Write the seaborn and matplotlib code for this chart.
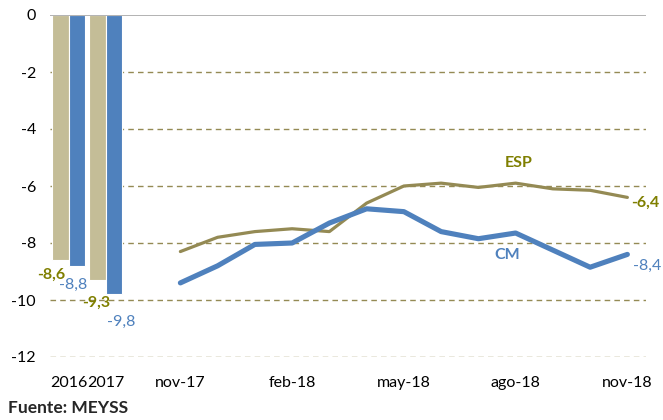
import numpy as np
import pandas as pd
import matplotlib
matplotlib.use("Agg")
import matplotlib.pyplot as plt
import seaborn as sns

# data
categories = ['2016', '2017', ' ', 'nov-17', 'dic-17', 'ene-18', 'feb-18', 'mar-18', 'abr-18',
              'may-18', 'jun-18', 'jul-18', 'ago-18', 'sep-18', 'oct-18', 'nov-18']
bar_years = ['2016', '2017']
bar_esp = [-8.6, -9.3]
bar_cm = [-8.8, -9.8]
months = categories[3:]
esp_monthly = [-8.3, -7.8, -7.6, -7.5, -7.6, -6.6, -6.0, -5.9, -6.05, -5.9, -6.1, -6.15, -6.4]
cm_monthly = [-9.4, -8.8, -8.05, -8.0, -7.3, -6.8, -6.9, -7.6, -7.85, -7.65, -8.25, -8.85, -8.4]
tick_labels = ['2016', '2017', 'nov-17', 'feb-18', 'may-18', 'ago-18', 'nov-18']
y_ticks = [0, -2, -4, -6, -8, -10, -12]

TAN = '#C4BD97'
BLUE = '#4F81BD'
ESP_LINE = '#948A54'
OLIVE_TXT = '#7F7F00'

sns.set_theme(style='white')
plt.rcParams['font.family'] = ['Lato', 'DejaVu Sans']

fig = plt.figure(figsize=(6.63, 4.2), dpi=100)
ax = fig.add_axes([50 / 663, 1 - 357 / 420, 596 / 663, 342 / 420])

bars = pd.DataFrame({
    'year': bar_years * 2,
    'serie': ['ESP'] * len(bar_years) + ['CM'] * len(bar_years),
    'value': bar_esp + bar_cm,
})
sns.barplot(data=bars, x='year', y='value', hue='serie', order=categories,
            hue_order=['ESP', 'CM'], palette=[TAN, BLUE], width=0.88, saturation=1,
            legend=False, ax=ax, edgecolor='white', linewidth=0.8)

xpos = [categories.index(m) for m in months]
sns.lineplot(x=xpos, y=esp_monthly, color=ESP_LINE, lw=2.3, ax=ax,
             solid_capstyle='round')
sns.lineplot(x=xpos, y=cm_monthly, color=BLUE, lw=3.7, ax=ax,
             solid_capstyle='round')

# gridlines and zero line
for t in y_ticks[1:]:
    ax.axhline(t, color=ESP_LINE, lw=1.0, ls=(0, (4, 3)), zorder=0)
ax.axhline(0, color='#A6A6A6', lw=1.2, zorder=3)

ax.set_xlim(-0.5, len(categories) - 0.5)
ax.set_ylim(-12, 0)
ax.set_yticks(y_ticks)
ax.set_yticklabels([str(t) for t in y_ticks])
ax.set_xticks([categories.index(t) for t in tick_labels])
ax.set_xticklabels(tick_labels)
ax.tick_params(axis='y', length=0, pad=10, labelsize=11.5, colors='black')
ax.tick_params(axis='x', length=0, pad=14, labelsize=11.5, colors='black')
ax.set_xlabel('')
ax.set_ylabel('')
for s in ax.spines.values():
    s.set_visible(False)

# bar value labels
fmt = lambda v: f'{v:.1f}'.replace('.', ',')
esp_off = [(-0.24, -0.52), (-0.035, -0.8)]
cm_off = [(-0.11, -0.67), (0.2, -0.97)]
for i, yr in enumerate(bar_years):
    x0 = categories.index(yr)
    ax.text(x0 - 0.22 + esp_off[i][0], bar_esp[i] + esp_off[i][1], fmt(bar_esp[i]),
            color=OLIVE_TXT, fontsize=11.5, fontweight='bold', ha='center', va='center')
    ax.text(x0 + 0.22 + cm_off[i][0], bar_cm[i] + cm_off[i][1], fmt(bar_cm[i]),
            color=BLUE, fontsize=11.5, ha='center', va='center')

# line end labels and series names
ax.text(xpos[-1] + 0.1, esp_monthly[-1] - 0.2, fmt(esp_monthly[-1]), color=OLIVE_TXT,
        fontsize=11.5, fontweight='bold', ha='left', va='center', clip_on=False)
ax.text(xpos[-1] + 0.15, cm_monthly[-1] - 0.4, fmt(cm_monthly[-1]), color=BLUE,
        fontsize=11.5, ha='left', va='center', clip_on=False)
ax.text(12.07, -5.18, 'ESP', color=OLIVE_TXT, fontsize=11.5, fontweight='bold',
        ha='center', va='center')
ax.text(11.77, -8.42, 'CM', color=BLUE, fontsize=11.5, fontweight='bold',
        ha='center', va='center')

fig.text(8 / 663, 1 - 408 / 420, 'Fuente: MEYSS', fontsize=12.5, fontweight='bold',
         ha='left', va='center')

fig.savefig('out.png', dpi=100)
